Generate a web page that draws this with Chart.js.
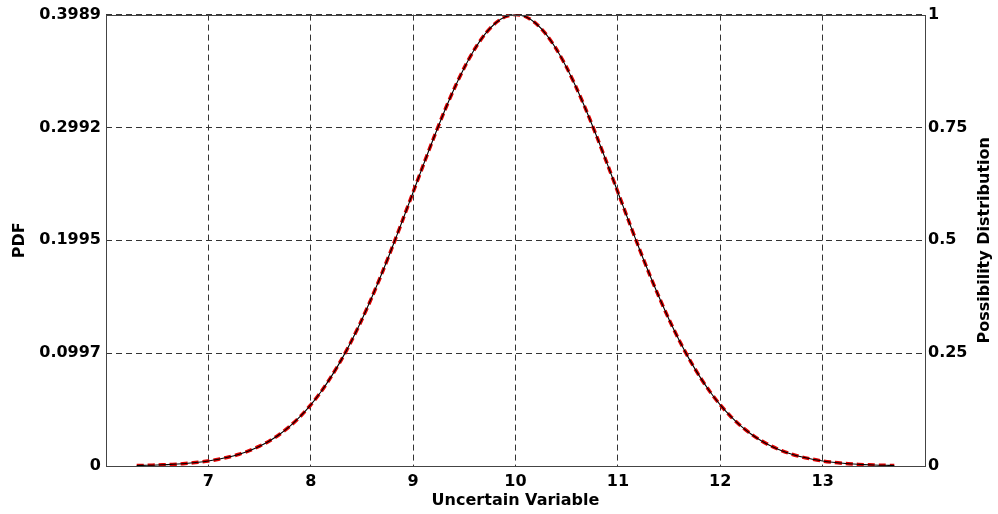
<!DOCTYPE html>
<html>
<head>
<meta charset="utf-8">
<script src="https://cdn.jsdelivr.net/npm/chart.js@4"></script>
<style>
  html, body { margin: 0; padding: 0; background: #fff; }
  #wrap { width: 998px; height: 514px; }
</style>
</head>
<body>
<div id="wrap"><canvas id="chart"></canvas></div>
<script>
// uncertain variable samples, 6.3 .. 13.7
const xValues = [
  6.3, 6.4, 6.5, 6.6, 6.7, 6.8, 6.9, 7.0, 7.1, 7.2, 7.3, 7.4, 7.5, 7.6, 7.7, 7.8, 7.9,
  8.0, 8.1, 8.2, 8.3, 8.4, 8.5, 8.6, 8.7, 8.8, 8.9, 9.0, 9.1, 9.2, 9.3, 9.4, 9.5, 9.6,
  9.7, 9.8, 9.9, 10.0, 10.1, 10.2, 10.3, 10.4, 10.5, 10.6, 10.7, 10.8, 10.9, 11.0, 11.1,
  11.2, 11.3, 11.4, 11.5, 11.6, 11.7, 11.8, 11.9, 12.0, 12.1, 12.2, 12.3, 12.4, 12.5,
  12.6, 12.7, 12.8, 12.9, 13.0, 13.1, 13.2, 13.3, 13.4, 13.5, 13.6, 13.7
];

// PDF (left axis)
const pdfValues = [
  0.0004, 0.0006, 0.0009, 0.0012, 0.0017, 0.0024, 0.0033, 0.0044, 0.0060, 0.0079,
  0.0104, 0.0136, 0.0175, 0.0224, 0.0283, 0.0355, 0.0440, 0.0540, 0.0656, 0.0790,
  0.0940, 0.1109, 0.1295, 0.1497, 0.1714, 0.1942, 0.2179, 0.2420, 0.2661, 0.2897,
  0.3123, 0.3332, 0.3521, 0.3683, 0.3814, 0.3910, 0.3970, 0.3989, 0.3970, 0.3910,
  0.3814, 0.3683, 0.3521, 0.3332, 0.3123, 0.2897, 0.2661, 0.2420, 0.2179, 0.1942,
  0.1714, 0.1497, 0.1295, 0.1109, 0.0940, 0.0790, 0.0656, 0.0540, 0.0440, 0.0355,
  0.0283, 0.0224, 0.0175, 0.0136, 0.0104, 0.0079, 0.0060, 0.0044, 0.0033, 0.0024,
  0.0017, 0.0012, 0.0009, 0.0006, 0.0004
];

// possibility distribution (right axis)
const possValues = [
  0.0011, 0.0015, 0.0022, 0.0031, 0.0043, 0.0060, 0.0082, 0.0111, 0.0149, 0.0198,
  0.0261, 0.0340, 0.0439, 0.0561, 0.0710, 0.0889, 0.1103, 0.1353, 0.1645, 0.1979,
  0.2357, 0.2780, 0.3247, 0.3753, 0.4296, 0.4868, 0.5461, 0.6065, 0.6670, 0.7261,
  0.7827, 0.8353, 0.8825, 0.9231, 0.9560, 0.9802, 0.9950, 1.0000, 0.9950, 0.9802,
  0.9560, 0.9231, 0.8825, 0.8353, 0.7827, 0.7261, 0.6670, 0.6065, 0.5461, 0.4868,
  0.4296, 0.3753, 0.3247, 0.2780, 0.2357, 0.1979, 0.1645, 0.1353, 0.1103, 0.0889,
  0.0710, 0.0561, 0.0439, 0.0340, 0.0261, 0.0198, 0.0149, 0.0111, 0.0082, 0.0060,
  0.0043, 0.0031, 0.0022, 0.0015, 0.0011
];

const pdfTicks = [0, 0.0997, 0.1995, 0.2992, 0.3989];
const possTicks = [0, 0.25, 0.5, 0.75, 1];
const xTicks = [7, 8, 9, 10, 11, 12, 13];

const FONT = 'DejaVu Sans';
const gridDash = [6, 4];

// box round the plot area + both vertical axis titles (read bottom to top)
const frame = {
  id: 'frame',
  afterDraw(chart) {
    const a = chart.chartArea, c = chart.ctx;
    c.save();
    c.strokeStyle = '#444';
    c.lineWidth = 1;
    c.setLineDash([]);
    c.strokeRect(Math.round(a.left) + 0.5, Math.round(a.top) + 0.5,
      Math.round(a.right - a.left), Math.round(a.bottom - a.top));
    c.fillStyle = '#000';
    c.font = 'bold 16px ' + FONT;
    c.textAlign = 'center';
    c.textBaseline = 'middle';
    const midY = (a.top + a.bottom) / 2;
    [['PDF', 20], ['Possibility Distribution', 985]].forEach(([t, x]) => {
      c.save();
      c.translate(x, midY);
      c.rotate(-Math.PI / 2);
      c.fillText(t, 0, 0);
      c.restore();
    });
    c.restore();
  }
};

new Chart(document.getElementById('chart'), {
  type: 'line',
  data: {
    datasets: [
      {
        label: 'PDF',
        data: xValues.map((x, i) => ({ x: x, y: pdfValues[i] })),
        yAxisID: 'yL',
        borderColor: '#e00000',
        borderWidth: 3.5,
        borderDash: [7, 4],
        pointRadius: 0,
        tension: 0.3,
        order: 2
      },
      {
        label: 'Possibility Distribution',
        data: xValues.map((x, i) => ({ x: x, y: possValues[i] })),
        yAxisID: 'yR',
        borderColor: '#000000',
        borderWidth: 1.1,
        pointRadius: 0,
        tension: 0.3,
        order: 1
      }
    ]
  },
  options: {
    responsive: true,
    maintainAspectRatio: false,
    animation: false,
    layout: { padding: { top: 11, left: 0, right: 0, bottom: 0 } },
    plugins: { legend: { display: false }, tooltip: { enabled: false } },
    scales: {
      x: {
        type: 'linear',
        min: 6, max: 14,
        afterBuildTicks: s => { s.ticks = xTicks.map(v => ({ value: v })); },
        afterFit: s => { s.height = 48; },
        ticks: { color: '#000', font: { family: FONT, size: 16, weight: 'bold' }, padding: 6 },
        grid: { color: '#333', drawTicks: false, lineWidth: 1 },
        border: { display: false, dash: gridDash },
        title: {
          display: true, text: 'Uncertain Variable', color: '#000',
          font: { family: FONT, size: 16, weight: 'bold' }, padding: { top: 0, bottom: 4 }
        }
      },
      yL: {
        position: 'left',
        min: 0, max: 0.3989,
        afterBuildTicks: s => { s.ticks = pdfTicks.map(v => ({ value: v })); },
        afterFit: s => { s.width = 106; },
        ticks: {
          color: '#000', font: { family: FONT, size: 16, weight: 'bold' }, padding: 5,
          callback: v => String(v)
        },
        grid: { color: '#333', drawTicks: false, lineWidth: 1 },
        border: { display: false, dash: gridDash }
      },
      yR: {
        position: 'right',
        min: 0, max: 1,
        afterBuildTicks: s => { s.ticks = possTicks.map(v => ({ value: v })); },
        afterFit: s => { s.width = 73; },
        ticks: {
          color: '#000', font: { family: FONT, size: 16, weight: 'bold' }, padding: 3,
          callback: v => String(v)
        },
        grid: { display: false, drawTicks: false },
        border: { display: false }
      }
    }
  },
  plugins: [frame]
});
</script>
</body>
</html>
